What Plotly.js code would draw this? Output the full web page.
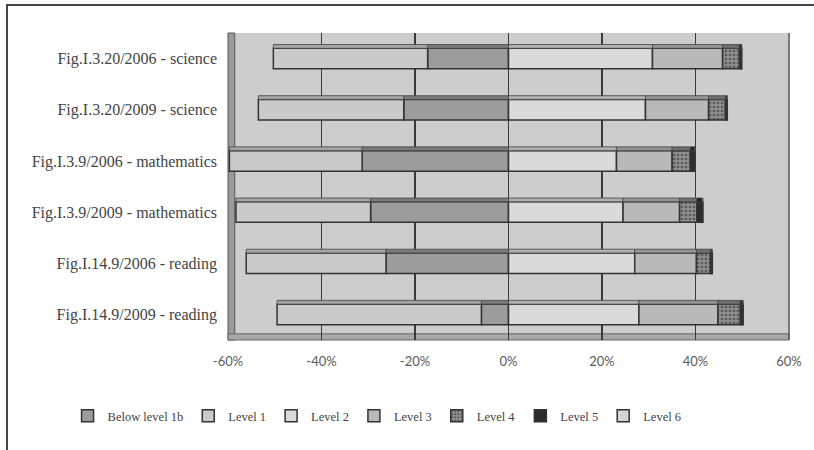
<!DOCTYPE html>
<html>
<head>
<meta charset="utf-8">
<script src="https://cdn.plot.ly/plotly-3.0.1.min.js"></script>
<style>
  html, body { margin: 0; padding: 0; background: #ffffff; }
  #wrap { position: relative; width: 814px; height: 450px; overflow: hidden; }
  #frame { position: absolute; left: 6px; top: 4px; width: 820px; height: 460px;
           border-top: 2px solid #444; border-left: 2px solid #444; pointer-events: none; }
  #chart { position: absolute; left: 0; top: 0; width: 814px; height: 450px; }
</style>
</head>
<body>
<div id="wrap">
  <div id="chart"></div>
  <div id="frame"></div>
</div>
<script>
// ---- data (percent of students) ----
var categories = [
  "Fig.I.3.20/2006 - science",
  "Fig.I.3.20/2009 - science",
  "Fig.I.3.9/2006 - mathematics",
  "Fig.I.3.9/2009 - mathematics",
  "Fig.I.14.9/2006 - reading",
  "Fig.I.14.9/2009 - reading"
];
var belowLevel1b = [-17.3, -22.4, -31.3, -29.5, -26.2, -5.8];
var level1       = [-33.0, -31.1, -28.4, -28.8, -29.9, -43.7];
var level2       = [30.8, 29.3, 23.1, 24.5, 27.0, 27.9];
var level3       = [15.0, 13.5, 11.9, 12.1, 13.2, 16.9];
var level4       = [3.6, 3.6, 3.9, 3.7, 3.0, 4.8];
var level5       = [0.4, 0.3, 0.9, 1.1, 0.3, 0.5];
var level6       = [0.1, 0.1, 0.1, 0.2, 0.1, 0.1];

var seriesNames = ["Below level 1b", "Level 1", "Level 2", "Level 3", "Level 4", "Level 5", "Level 6"];
var xTickVals = [-60, -40, -20, 0, 20, 40, 60];
var xTickText = ["-60%", "-40%", "-20%", "0%", "20%", "40%", "60%"];

// ---- styles ----
var seriesData = [belowLevel1b, level1, level2, level3, level4, level5, level6];
var fills    = ["#9c9c9c", "#cacaca", "#dadada", "#b9b9b9", "#8e8e8e", "#2c2c2c", "#d4d4d4"];
var topFills = ["#7a7a7a", "#a4a4a4", "#b0b0b0", "#949494", "#6e6e6e", "#222222", "#aaaaaa"];
var patterns = ["", "", "", "", ".", "", ""];

var traces = [];
// 3D-look top faces (own stack on an overlaying axis)
seriesData.forEach(function (vals, i) {
  traces.push({
    type: "bar",
    orientation: "h",
    name: seriesNames[i] + " top",
    showlegend: false,
    y: categories,
    x: vals,
    yaxis: "y2",
    width: 0.075,
    offset: -0.275,
    marker: { color: topFills[i], line: { color: "#444444", width: 0.8 } },
    hoverinfo: "skip"
  });
});
// front faces
seriesData.forEach(function (vals, i) {
  var m = { color: fills[i], line: { color: "#333333", width: 1.5 } };
  if (patterns[i]) {
    m.pattern = { shape: patterns[i], fgcolor: "#5a5a5a", bgcolor: fills[i], size: 4, solidity: 0.35 };
  }
  traces.push({
    type: "bar",
    orientation: "h",
    name: seriesNames[i],
    y: categories,
    x: vals,
    width: 0.4,
    marker: m,
    hoverinfo: "skip"
  });
});

var catRange = [categories.length - 0.5, -0.5];

var layout = {
  width: 814,
  height: 450,
  margin: { l: 228, r: 25, t: 33, b: 110, pad: 0 },
  paper_bgcolor: "#ffffff",
  plot_bgcolor: "#cdcdcd",
  barmode: "relative",
  showlegend: true,
  legend: {
    orientation: "h",
    xref: "paper", yref: "paper",
    x: -0.286, y: -0.248, xanchor: "left", yanchor: "middle",
    font: { family: "Liberation Serif, serif", size: 12.5, color: "#444444" },
    traceorder: "normal",
    itemclick: false,
    bgcolor: "rgba(0,0,0,0)"
  },
  xaxis: {
    range: [-60, 60],
    tickvals: xTickVals,
    ticktext: xTickText,
    showgrid: true,
    gridcolor: "#3a3a3a",
    gridwidth: 1.5,
    zeroline: false,
    ticks: "",
    ticklabelstandoff: 12,
    tickfont: { family: "Lato, DejaVu Sans, sans-serif", size: 13, color: "#5a5a5a" },
    showline: false,
    fixedrange: true
  },
  yaxis: {
    type: "category",
    categoryorder: "array",
    categoryarray: categories,
    range: catRange,
    showgrid: false,
    zeroline: false,
    ticks: "",
    ticklabelstandoff: 10,
    tickfont: { family: "Liberation Serif, serif", size: 16, color: "#444444" },
    showline: false,
    fixedrange: true
  },
  yaxis2: {
    type: "category",
    categoryorder: "array",
    categoryarray: categories,
    range: catRange,
    overlaying: "y",
    visible: false,
    showgrid: false,
    zeroline: false,
    fixedrange: true
  },
  shapes: [
    // left wall (3D look)
    { type: "rect", xref: "paper", yref: "paper", x0: 0, x1: 0.012, y0: 0, y1: 1,
      fillcolor: "#9a9a9a", line: { color: "#555555", width: 1 }, layer: "below" },
    // floor (3D look)
    { type: "rect", xref: "paper", yref: "paper", x0: 0, x1: 1, y0: 0, y1: 0.02,
      fillcolor: "#a8a8a8", line: { color: "#666666", width: 1 }, layer: "below" },
    // right edge of back wall
    { type: "line", xref: "paper", yref: "paper", x0: 1, x1: 1, y0: 0, y1: 1,
      line: { color: "#555555", width: 1.5 } }
  ]
};

Plotly.newPlot("chart", traces, layout, { displayModeBar: false, staticPlot: true });
</script>
</body>
</html>
